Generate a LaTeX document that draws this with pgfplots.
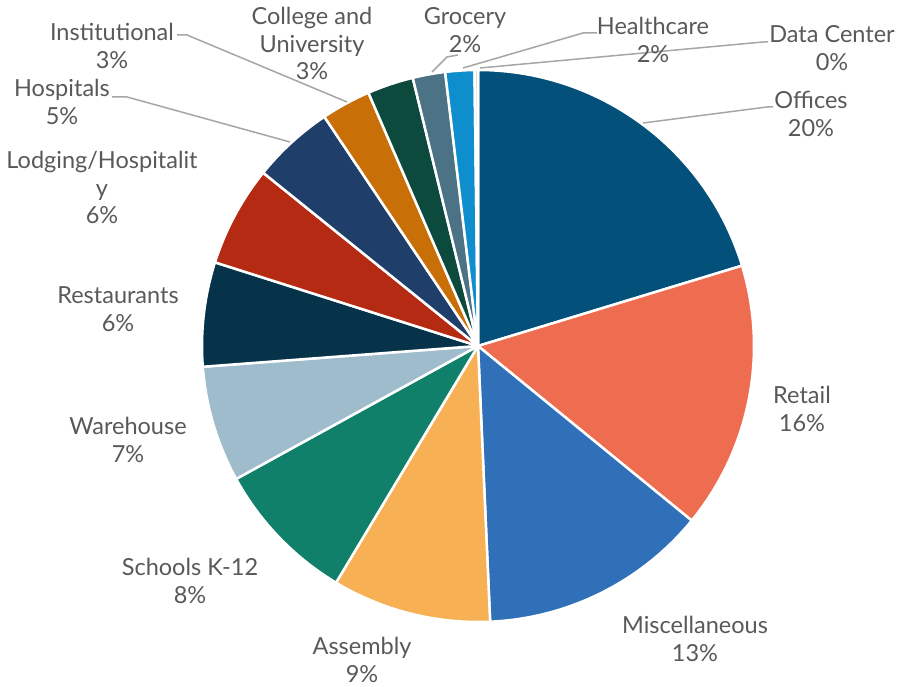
\documentclass[border=0pt]{standalone}
\usepackage{pgfplots}
\pgfplotsset{compat=1.18}
\usepackage{pgfplotstable}
\usepackage{fontspec}
\setmainfont{Lato}

\definecolor{pie0}{HTML}{03507A}
\definecolor{pie1}{HTML}{EE6D50}
\definecolor{pie2}{HTML}{3070B8}
\definecolor{pie3}{HTML}{F8B055}
\definecolor{pie4}{HTML}{10806A}
\definecolor{pie5}{HTML}{9EBCCC}
\definecolor{pie6}{HTML}{06324A}
\definecolor{pie7}{HTML}{B52A12}
\definecolor{pie8}{HTML}{1F3F6A}
\definecolor{pie9}{HTML}{C96F08}
\definecolor{pie10}{HTML}{0B4A3D}
\definecolor{pie11}{HTML}{4B7285}
\definecolor{pie12}{HTML}{0E8ECC}
\definecolor{pie13}{HTML}{D9D9D9}
\definecolor{lbl}{HTML}{595959}
\definecolor{leader}{HTML}{A6A6A6}

% share of each building type, clockwise from 12 o'clock
\pgfplotstableread{
value
20.3
15.6
13.4
9.3
8.4
6.8
6.1
5.9
4.8
2.9
2.7
1.9
1.7
0.2
}\piedata

\begin{document}
\begin{tikzpicture}
\begin{axis}[
    x=1pt, y=1pt,
    xmin=-478, xmax=425,
    ymin=-341, ymax=346,
    hide axis,
    clip=false,
]
    \draw[draw=none] (rel axis cs:0,0) rectangle (rel axis cs:1,1);
    \def\cum{0}
    \pgfplotsforeachungrouped \i in {0,...,13}{
        \pgfplotstablegetelem{\i}{value}\of\piedata
        \let\v\pgfplotsretval
        \pgfmathsetmacro\a{90-3.6*\cum}
        \pgfmathsetmacro\b{90-3.6*(\cum+\v)}
        \pgfmathsetmacro\newcum{\cum+\v}
        \global\let\cum\newcum
        \edef\temp{\noexpand\fill[pie\i, draw=white, line width=2.5pt, line join=round]
            (axis cs:0,0) -- ++(\a:276pt) arc[start angle=\a, end angle=\b, radius=276pt] -- cycle;}
        \temp
    }

    % leader lines
    \draw[leader, line width=1.5pt] (axis cs:-301,311) -- (axis cs:-291,311) -- (axis cs:-131,244);
    \draw[leader, line width=1.5pt] (axis cs:-366,249) -- (axis cs:-351,249) -- (axis cs:-188,204);
    \draw[leader, line width=1.5pt] (axis cs:-20,291) -- (axis cs:-31,289) -- (axis cs:-46,274);
    \draw[leader, line width=1.5pt] (axis cs:119,313) -- (axis cs:105,313) -- (axis cs:-15,278);
    \draw[leader, line width=1.5pt] (axis cs:290,304) -- (axis cs:285,304) -- (axis cs:2,278);
    \draw[leader, line width=1.5pt] (axis cs:295,239) -- (axis cs:289,239) -- (axis cs:165,223);

    % data labels
    \tikzset{lab/.style={align=center, text=lbl, font=\fontsize{23.5}{27.5}\selectfont, inner sep=0pt}}
    \node[lab] at (axis cs:-366,300) {Institutional\\3\%};
    \node[lab] at (axis cs:-166,302.5) {College and\\University\\3\%};
    \node[lab] at (axis cs:-13,316) {Grocery\\2\%};
    \node[lab] at (axis cs:175,306) {Healthcare\\2\%};
    \node[lab] at (axis cs:354,298) {Data Center\\0\%};
    \node[lab] at (axis cs:333,232) {Offices\\20\%};
    \node[lab] at (axis cs:324,-63) {Retail\\16\%};
    \node[lab] at (axis cs:217,-293) {Miscellaneous\\13\%};
    \node[lab] at (axis cs:-116,-314) {Assembly\\9\%};
    \node[lab] at (axis cs:-288,-235) {Schools K-12\\8\%};
    \node[lab] at (axis cs:-350,-94) {Warehouse\\7\%};
    \node[lab] at (axis cs:-360,37) {Restaurants\\6\%};
    \node[lab] at (axis cs:-376,158.5) {Lodging/Hospitalit\\y\\6\%};
    \node[lab] at (axis cs:-416,244) {Hospitals\\5\%};
\end{axis}
\end{tikzpicture}
\end{document}
